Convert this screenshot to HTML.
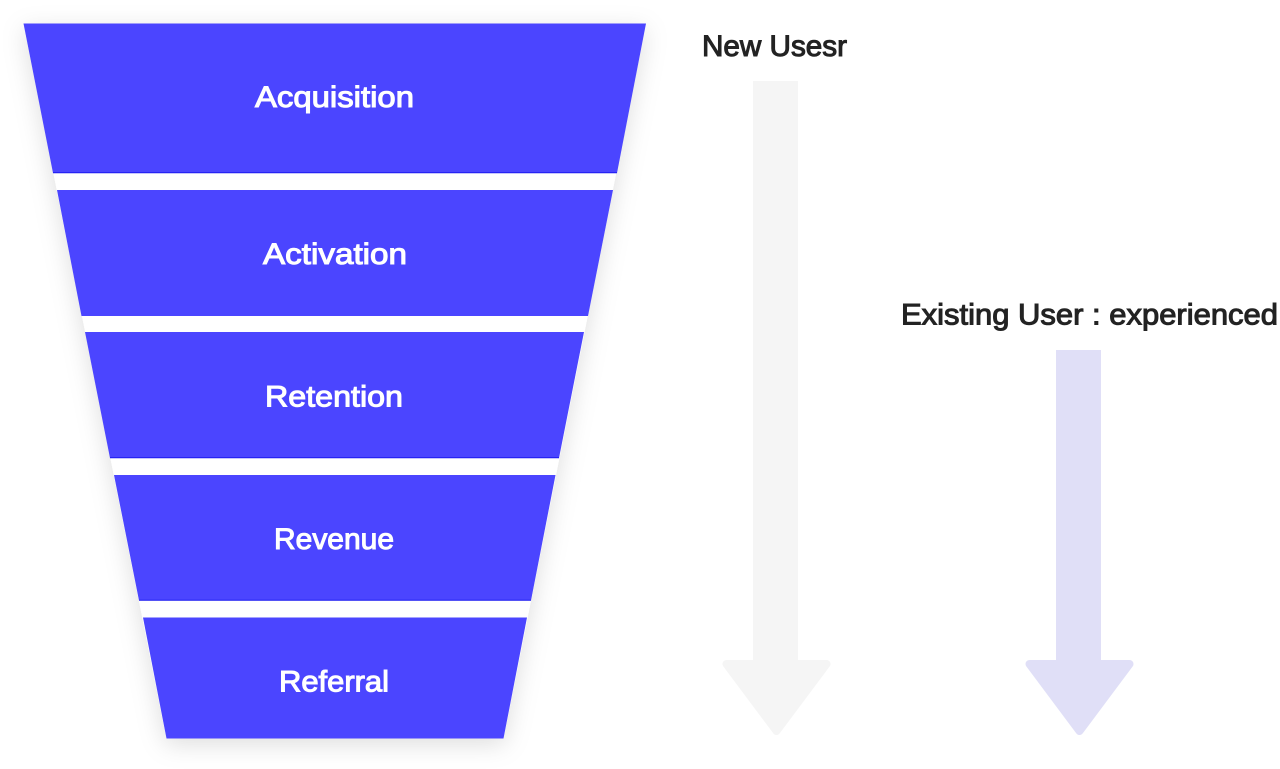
<!DOCTYPE html>
<html>
<head>
<meta charset="utf-8">
<style>
html,body{margin:0;padding:0;background:#fff;width:1280px;height:769px;overflow:hidden}
svg{display:block}
text{font-family:"Liberation Sans",sans-serif;font-size:29.5px}
.w{fill:#fff;stroke:#fff;stroke-width:1.05px}
.d{fill:#232323;stroke:#232323;stroke-width:1.05px}
</style>
</head>
<body>
<svg width="1280" height="769" viewBox="0 0 1280 769" xmlns="http://www.w3.org/2000/svg">
<defs>
<filter id="s" x="-15%" y="-15%" width="130%" height="130%">
<feDropShadow dx="0" dy="6" stdDeviation="12" flood-color="#000" flood-opacity=".13"/>
</filter>
</defs>
<polygon points="23.5,23.5 646,23.5 503.5,738.5 166.5,738.5" fill="#fff" filter="url(#s)"/>
<g fill="#4B45FF">
<polygon points="23.5,23.5 646,23.5 617,173 53,173"/>
<polygon points="57,190 613,190 588,316 81.5,316"/>
<polygon points="85,332 584,332 559,458 110,458"/>
<polygon points="114,475 555.5,475 531,600.5 139,600.5"/>
<polygon points="143,617.5 527,617.5 503.5,738.5 166.5,738.5"/>
</g>
<g stroke="#1A18F0" stroke-width="1">
<line x1="53" y1="172.8" x2="617" y2="172.8"/>
<line x1="110" y1="457.8" x2="559" y2="457.8"/>
<line x1="139" y1="600.3" x2="531" y2="600.3"/>
</g>
<text class="w" x="255" y="107" textLength="159" lengthAdjust="spacingAndGlyphs">Acquisition</text>
<text class="w" x="263" y="264" textLength="144" lengthAdjust="spacingAndGlyphs">Activation</text>
<text class="w" x="265" y="406.5" textLength="138" lengthAdjust="spacingAndGlyphs">Retention</text>
<text class="w" x="274" y="549" textLength="120" lengthAdjust="spacingAndGlyphs">Revenue</text>
<text class="w" x="279" y="691.5" textLength="110" lengthAdjust="spacingAndGlyphs">Referral</text>
<text class="d" x="702" y="56" textLength="145" lengthAdjust="spacingAndGlyphs">New Usesr</text>
<text class="d" x="901" y="324.5" textLength="377" lengthAdjust="spacingAndGlyphs">Existing User : experienced</text>
<g fill="#F5F5F5">
<rect x="753" y="81" width="45" height="585"/>
<polygon points="726.5,664 826.5,664 776.5,731" stroke="#F5F5F5" stroke-width="8" stroke-linejoin="round"/>
</g>
<g fill="#E0DFF7">
<rect x="1056" y="350" width="45" height="316"/>
<polygon points="1029.5,664 1129.5,664 1079.5,731" stroke="#E0DFF7" stroke-width="8" stroke-linejoin="round"/>
</g>
</svg>
</body>
</html>
